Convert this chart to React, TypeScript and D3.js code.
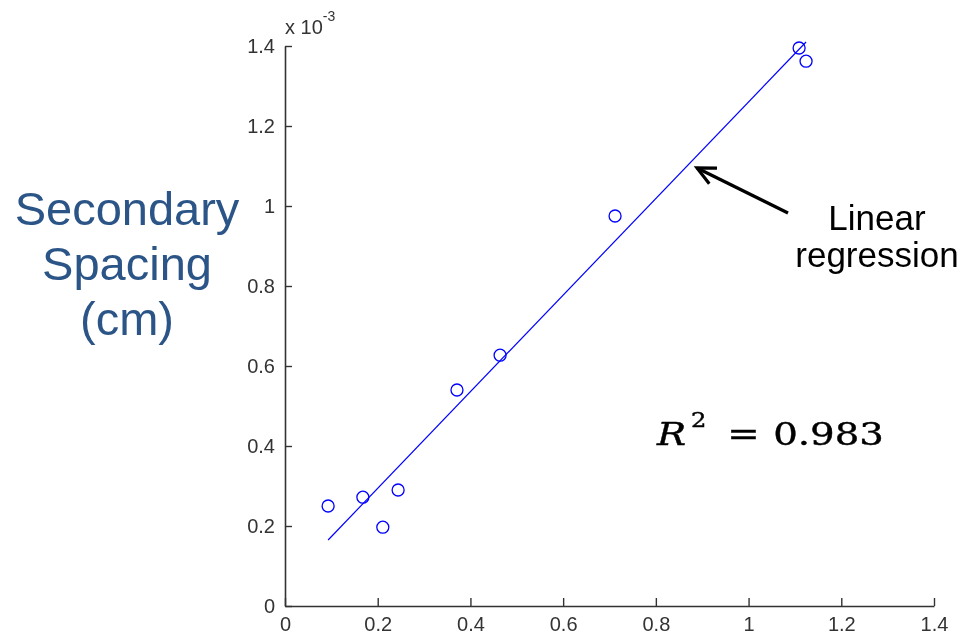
import React, { useRef, useEffect } from 'react';
import * as d3 from 'd3';

// measured points (x, y in units of 1e-3)
const pointX = [0.093, 0.168, 0.211, 0.244, 0.371, 0.464, 0.712, 1.109, 1.124];
const pointY = [0.25, 0.272, 0.197, 0.29, 0.54, 0.627, 0.975, 1.395, 1.362];

// regression line endpoints
const fitX = [0.093, 1.124];
const fitY = [0.165, 1.41];

const xTicks = [0, 0.2, 0.4, 0.6, 0.8, 1, 1.2, 1.4];
const yTicks = [0, 0.2, 0.4, 0.6, 0.8, 1, 1.2, 1.4];

const yLabelLines = ['Secondary', 'Spacing', '(cm)'];
const noteLines = ['Linear', 'regression'];

const Chart = () => {
  const ref = useRef<SVGSVGElement>(null);

  useEffect(() => {
    const svg = d3.select(ref.current);
    svg.selectAll('*').remove();

    const x = d3.scaleLinear().domain([0, 1.4]).range([285, 934]);
    const y = d3.scaleLinear().domain([0, 1.4]).range([606, 46]);

    const tickFont = 'Liberation Sans, Arial, sans-serif';

    // x axis
    const xAxis = d3
      .axisBottom(x)
      .tickValues(xTicks)
      .tickSizeInner(-8)
      .tickSizeOuter(0)
      .tickFormat((d) => d3.format('~g')(d as number));
    const gx = svg.append('g').attr('transform', `translate(0,${y(0)})`).call(xAxis);
    gx.select('.domain').attr('stroke', '#333').attr('stroke-width', 1.6);
    gx.selectAll('.tick line').attr('stroke', '#333').attr('stroke-width', 1.4);
    gx.selectAll('text')
      .attr('font-family', tickFont)
      .attr('font-size', '20px')
      .attr('fill', '#333')
      .attr('y', 25)
      .attr('dy', 0);

    // y axis
    const yAxis = d3
      .axisLeft(y)
      .tickValues(yTicks)
      .tickSizeInner(-7)
      .tickSizeOuter(0)
      .tickPadding(10)
      .tickFormat((d) => d3.format('~g')(d as number));
    const gy = svg.append('g').attr('transform', `translate(${x(0)},0)`).call(yAxis);
    gy.select('.domain').attr('stroke', '#333').attr('stroke-width', 1.6);
    gy.selectAll('.tick line').attr('stroke', '#333').attr('stroke-width', 1.4);
    gy.selectAll('text')
      .attr('font-family', tickFont)
      .attr('font-size', '20px')
      .attr('fill', '#333');

    // exponent label
    const ex = svg
      .append('text')
      .attr('x', 285)
      .attr('y', 34)
      .attr('font-family', tickFont)
      .attr('font-size', '20px')
      .attr('fill', '#333');
    ex.append('tspan').text('x 10');
    ex.append('tspan').attr('font-size', '14px').attr('dy', -13).text('-3');

    // regression line
    const line = d3
      .line<number>()
      .x((d) => x(fitX[d]))
      .y((d) => y(fitY[d]));
    svg
      .append('path')
      .datum([0, 1])
      .attr('d', line)
      .attr('fill', 'none')
      .attr('stroke', '#0000ff')
      .attr('stroke-width', 1.2);

    // points
    svg
      .append('g')
      .selectAll('circle')
      .data(pointX)
      .join('circle')
      .attr('cx', (d) => x(d))
      .attr('cy', (d, i) => y(pointY[i]))
      .attr('r', 6)
      .attr('fill', 'none')
      .attr('stroke', '#0000ff')
      .attr('stroke-width', 1.3);

    // y title
    svg
      .append('text')
      .attr('text-anchor', 'middle')
      .attr('font-family', 'Liberation Sans, Arial, sans-serif')
      .attr('font-size', '47px')
      .attr('fill', '#2b5487')
      .selectAll('tspan')
      .data(yLabelLines)
      .join('tspan')
      .attr('x', 127)
      .attr('y', (d, i) => 225 + i * 55)
      .text((d) => d);

    // annotation
    svg
      .append('text')
      .attr('text-anchor', 'middle')
      .attr('font-family', 'Liberation Sans, Arial, sans-serif')
      .attr('font-size', '35px')
      .attr('fill', '#000')
      .selectAll('tspan')
      .data(noteLines)
      .join('tspan')
      .attr('x', 877)
      .attr('y', (d, i) => 230 + i * 37)
      .text((d) => d);

    // arrow
    const arrow = svg.append('g').attr('stroke', '#000').attr('stroke-width', 3.2).attr('fill', 'none');
    arrow.append('line').attr('x1', 788).attr('y1', 213).attr('x2', 697).attr('y2', 168);
    const ang = Math.atan2(213 - 168, 788 - 697);
    const hl = 20;
    const spread = 0.45;
    arrow
      .append('path')
      .attr('stroke-linejoin', 'miter')
      .attr(
        'd',
        `M${697 + hl * Math.cos(ang - spread)},${168 + hl * Math.sin(ang - spread)} L697,168 L${697 + hl * Math.cos(ang + spread)},${168 + hl * Math.sin(ang + spread)}`
      );

    // R^2 label (wide serif, stretched horizontally)
    const serif = 'DejaVu Serif, Liberation Serif, serif';
    const r2 = svg
      .append('g')
      .attr('transform', 'translate(657,445) scale(1.21,1)')
      .attr('font-family', serif)
      .attr('fill', '#000')
      .attr('stroke', '#000')
      .attr('stroke-width', 0.4);
    r2.append('text')
      .attr('x', 0)
      .attr('y', 0)
      .attr('font-style', 'italic')
      .attr('font-size', '32px')
      .text('R');
    r2.append('text').attr('x', 28).attr('y', -18).attr('font-size', '20px').text('2');
    r2.append('text').attr('x', 58).attr('y', 0).attr('font-size', '32px').text('=');
    r2.append('text').attr('x', 96).attr('y', 0).attr('font-size', '32px').text('0.983');
  }, []);

  return <svg ref={ref} width={968} height={635} style={{ display: 'block' }} />;
};

export default function App() {
  return (
    <div style={{ position: 'fixed', left: 0, top: 0, width: 968, height: 635, overflow: 'hidden' }}>
      <Chart />
    </div>
  );
}
